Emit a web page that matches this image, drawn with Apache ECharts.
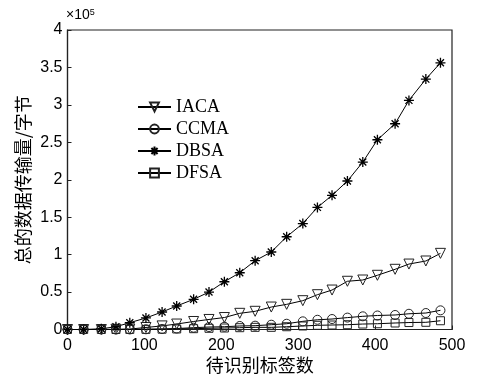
<!DOCTYPE html>
<html>
<head>
<meta charset="utf-8">
<script src="https://cdn.jsdelivr.net/npm/echarts@6/dist/echarts.min.js"></script>
<style>
html,body{margin:0;padding:0;background:#fff;}
#c{width:478px;height:374px;}
</style>
</head>
<body>
<div id="c"></div>
<script>
// Tag counts (x positions)
var tagCounts = [0,21,44,63,81,102,123,142,164,184,204,224,244,265,285,306,325,344,364,384,403,426,444,466,485];
// Total transmitted data (bytes)
var iaca = [0,0,0,300,600,2700,4800,7300,10700,13400,16000,21600,24300,30000,33600,38500,46500,52700,64400,66100,72400,80400,87400,91500,101700];
var ccma = [0,0,0,0,100,300,700,1300,2400,3300,3700,4700,5100,6400,7700,10900,13000,14000,15900,17600,18700,19400,21000,22000,25600];
var dbsa = [0,0,1000,3700,9100,15400,23400,31400,40300,50000,63800,75800,91900,103500,123900,141500,163100,179200,198300,223600,253400,274800,306000,334400,356200];
var dfsa = [0,0,0,0,100,200,400,700,1100,1600,2000,2400,2900,2900,3700,4700,5600,6000,6400,7300,7700,8700,9300,9600,11700];
var seriesNames = ['IACA','CCMA','DBSA','DFSA'];
var xTicks = [0,100,200,300,400,500];
var yTicks = [0,0.5,1,1.5,2,2.5,3,3.5,4];

function pairs(xs, ys){ return xs.map(function(x,i){ return [x, ys[i]]; }); }

var asterisk = 'path://M0,-5L0,5M-5,0L5,0M-3.5,-3.5L3.5,3.5M-3.5,3.5L3.5,-3.5';

function mk(name, data, symbol, size, rotate, extra){
  var s = {
    name: name, type: 'line', data: pairs(tagCounts, data),
    symbol: symbol, symbolSize: size, symbolRotate: rotate || 0,
    showAllSymbol: true,
    lineStyle: {color: '#000', width: 1},
    itemStyle: {color: 'rgba(0,0,0,0)', borderColor: '#222', borderWidth: 1},
    emphasis: {disabled: true},
    animation: false, z: 2
  };
  if (extra) { for (var k in extra) s[k] = extra[k]; }
  return s;
}

var chart = echarts.init(document.getElementById('c'), null, {renderer: 'canvas'});
chart.setOption({
  backgroundColor: '#fff',
  animation: false,
  grid: {left: 67.5, right: 26, top: 30, bottom: 44.5, containLabel: false, outerBoundsMode: 'none',
    show: true, borderColor: '#222', borderWidth: 1.2, backgroundColor: 'transparent'},
  legend: {
    data: seriesNames,
    orient: 'vertical', left: 132, top: 93,
    itemWidth: 33, itemHeight: 11, itemGap: 4,
    textStyle: {fontFamily: 'Liberation Serif', fontSize: 18, color: '#000'},
    selectedMode: false
  },
  xAxis: {
    type: 'value', min: 0, max: 500, interval: 100,
    name: '待识别标签数', nameLocation: 'middle', nameGap: 27, nameMoveOverlap: false,
    nameTextStyle: {fontFamily: 'Noto Sans CJK SC', fontSize: 18, color: '#000'},
    axisLine: {show: true, onZero: false, lineStyle: {color: '#222', width: 1.2}},
    axisTick: {show: true, inside: true, length: 4, lineStyle: {color: '#222'}},
    axisLabel: {fontFamily: 'Liberation Sans', fontSize: 16, color: '#000', margin: 8,
      formatter: function(v){ return xTicks.indexOf(v) >= 0 ? String(v) : ''; }},
    splitLine: {show: false}
  },
  yAxis: {
    type: 'value', min: 0, max: 400000, interval: 50000,
    name: '总的数据传输量/字节', nameLocation: 'middle', nameGap: 35, nameRotate: 90, nameMoveOverlap: false,
    nameTextStyle: {fontFamily: 'Noto Sans CJK SC', fontSize: 18, color: '#000'},
    axisLine: {show: true, lineStyle: {color: '#222', width: 1.2}},
    axisTick: {show: true, inside: true, length: 4, lineStyle: {color: '#222'}},
    axisLabel: {fontFamily: 'Liberation Sans', fontSize: 16, color: '#000', margin: 5,
      formatter: function(v){ var t = v/100000; return yTicks.indexOf(t) >= 0 ? String(t) : ''; }},
    splitLine: {show: false}
  },
  graphic: [{
    type: 'text', left: 66, top: 8,
    style: {text: '×10{s|5}', fontFamily: 'Liberation Sans', fontSize: 14, fill: '#000',
      rich: {s: {fontSize: 9, verticalAlign: 'top', padding: [0,0,6,0], fontFamily: 'Liberation Sans'}}}
  }],
  series: [
    mk('IACA', iaca, 'triangle', 10, 180),
    mk('CCMA', ccma, 'circle', 9, 0),
    mk('DBSA', dbsa, asterisk, 10, 0, {itemStyle: {color: '#000', borderColor: '#000', borderWidth: 1.3}}),
    mk('DFSA', dfsa, 'rect', 8, 0)
  ]
});
</script>
</body>
</html>
